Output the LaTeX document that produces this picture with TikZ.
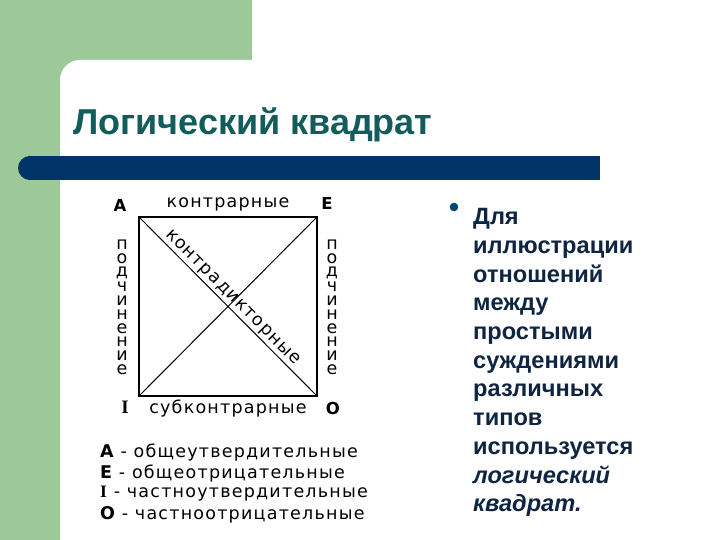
\documentclass[tikz,border=0pt]{standalone}
\usepackage{fontspec}
\setmainfont{Liberation Sans}
\newfontfamily\sqfont[LetterSpace=7]{DejaVu Sans}
\newfontfamily\ltrfont{DejaVu Sans}
\newfontfamily\iltrfont{Liberation Serif}

\definecolor{slidegreen}{RGB}{157,201,153}
\definecolor{titleteal}{RGB}{18,92,92}
\definecolor{barnavy}{RGB}{0,51,102}
\definecolor{textnavy}{RGB}{14,36,66}

\tikzset{
  sqlabel/.style={font=\sqfont\fontsize{17.5}{17.5}\selectfont, inner sep=0pt},
  cornerltr/.style={font=\ltrfont\bfseries\fontsize{16.5}{16.5}\selectfont, inner sep=0pt},
  bodyline/.style={anchor=base west, inner sep=0pt, text=textnavy,
                   font=\bfseries\fontsize{23.6}{23.6}\selectfont},
}

\begin{document}
\begin{tikzpicture}[x=1pt, y=-1pt]
\useasboundingbox (0,0) rectangle (720,540);
\clip (0,0) rectangle (720,540);

% Slide background: green frame, white sheet with one rounded corner.
\fill[white] (0,0) rectangle (720,540);
\fill[slidegreen] (0,0) rectangle (252,80);
\fill[slidegreen] (0,0) rectangle (60,540);
\fill[white, rounded corners=20pt] (60,60) rectangle (760,580);

% Title and the bar under it.
\node[anchor=base west, inner sep=0pt, text=titleteal,
      font=\bfseries\fontsize{36}{36}\selectfont] (title) at (73,135)
  {Логический квадрат};
\fill[barnavy, rounded corners=12pt] (18,156) rectangle (40,180);
\fill[barnavy] (30,156) rectangle (600,180);

% The square itself, corners first.
\coordinate (cA) at (139,217);
\coordinate (cE) at (317,217);
\coordinate (cI) at (139,396);
\coordinate (cO) at (317,396);

\draw[line width=2pt] (cA) -- (cE) -- (cO) -- (cI) -- cycle;
\draw[line width=1pt]
  (cA) -- (cO)
  (cE) -- (cI);

% Corner letters (I has serifs in the picture).
\node[cornerltr] (A) at (120,205) {A};
\node[cornerltr] (E) at (327,203) {E};
\node[cornerltr, font=\iltrfont\bfseries\fontsize{19}{19}\selectfont] (I) at (125,407) {I};
\node[cornerltr] (O) at (333,408) {O};

% Side names.
\node[sqlabel] (contr) at (228,204) {контрарные};
\node[sqlabel] (subcontr) at (228,409) {субконтрарные};
\path (cA) -- (cO)
  node[sqlabel, midway, sloped, above=2pt, xshift=-3pt] (contradict) {контрадикторные};

% "подчинение" stacked letter by letter on both sides.
\foreach \l [count=\i] in {п,о,д,ч,и,н,е,н,и,е} {
  \node[sqlabel] (lp\i) at (122,231+13.9*\i) {\l};
  \node[sqlabel] (rp\i) at (332,231+13.9*\i) {\l};
}

% Legend under the square.
\foreach \y/\ltr/\lfont/\ltext in {453/A/\ltrfont/общеутвердительные,
                                   474/E/\ltrfont/общеотрицательные,
                                   494/I/\iltrfont/частноутвердительные,
                                   515/O/\ltrfont/частноотрицательные}
  \node[anchor=west, inner sep=0pt, font=\sqfont\fontsize{17.5}{17.5}\selectfont]
    (leg\ltr) at (100,\y) {{\lfont\bfseries\ltr}~-~\ltext};

% Bullet text on the right.
\fill[barnavy!90!cyan] (454,207) circle (4.3pt);
\foreach \word [count=\i] in {Для, иллюстрации, отношений, между, простыми,
                              суждениями, различных, типов, используется}
  \node[bodyline] (line\i) at (473,196+28.7*\i) {\word};
\node[bodyline, font=\bfseries\itshape\fontsize{23.6}{23.6}\selectfont]
  (line10) at (473,483) {логический};
\node[bodyline, font=\bfseries\itshape\fontsize{23.6}{23.6}\selectfont]
  (line11) at (473,511.7) {квадрат.};
\end{tikzpicture}
\end{document}
